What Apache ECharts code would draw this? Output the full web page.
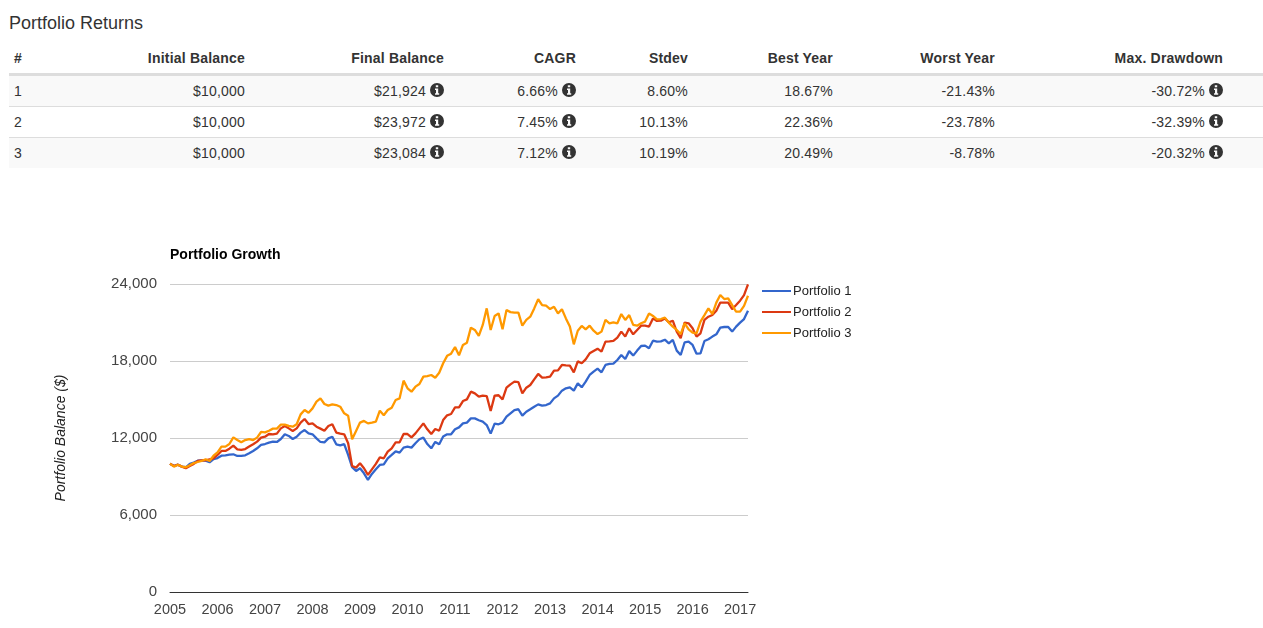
<!DOCTYPE html>
<html>
<head>
<meta charset="utf-8">
<title>Portfolio Returns</title>
<script src="https://cdn.jsdelivr.net/npm/echarts@6/dist/echarts.min.js"></script>
<style>
html,body{margin:0;padding:0;width:1263px;height:628px;overflow:hidden;background:#fff;font-family:"Liberation Sans",Arial,sans-serif;color:#333;}
h1{position:absolute;left:9px;top:13px;margin:0;font-size:18px;line-height:20px;font-weight:400;color:#333;}
table{position:absolute;left:9px;top:43px;width:1254px;border-collapse:collapse;table-layout:fixed;font-size:14px;line-height:20px;}
th,td{padding:5px;text-align:right;white-space:nowrap;}
th{height:20px;border-bottom:3px solid #ddd;font-weight:700;letter-spacing:.2px;}
td{border-top:1px solid #ddd;letter-spacing:.2px;}
tr:first-child td{border-top:0;}
th:first-child,td:first-child{text-align:left;}
tbody tr:nth-child(odd){background:#f9f9f9;}
svg.info{width:14px;height:14px;vertical-align:-1px;margin-left:4px;}
#chart{position:absolute;left:0;top:180px;width:1263px;height:448px;}
</style>
</head>
<body>
<h1 id="title"></h1>
<table id="tbl"></table>
<div id="chart"></div>
<script>
const pageTitle = "Portfolio Returns";
const chartTitle = "Portfolio Growth";
const yAxisTitle = "Portfolio Balance ($)";
const headers = ["#","Initial Balance","Final Balance","CAGR","Stdev","Best Year","Worst Year","Max. Drawdown",""];
const colWidths = [121,120,199,132,112,145,162,228,35];
const infoCols = [2,3,7];
const rows = [
  ["1","$10,000","$21,924","6.66%","8.60%","18.67%","-21.43%","-30.72%",""],
  ["2","$10,000","$23,972","7.45%","10.13%","22.36%","-23.78%","-32.39%",""],
  ["3","$10,000","$23,084","7.12%","10.19%","20.49%","-8.78%","-20.32%",""]
];
const seriesNames = ["Portfolio 1","Portfolio 2","Portfolio 3"];
const colors = ["#3366CC","#DC3912","#FF9900"];
const yTicks = [0,6000,12000,18000,24000];

const portfolio1 = [10000,9820,9920,9770,9720,9980,10080,10230,10260,10230,10110,10360,10440,10620,10650,10700,10730,10600,10600,10650,10810,10990,11200,11460,11530,11640,11720,11690,11920,12290,
12160,11920,12100,12420,12620,12360,12290,11970,11690,11660,11970,12100,11510,11430,11530,10680,9720,9430,9640,9250,8730,9200,9560,9900,9950,10420,10680,10960,10860,
11250,11330,11250,11590,11900,12030,11530,11200,11690,11510,12110,12290,12290,12680,12830,13140,13200,13530,13530,13380,13270,13010,12340,13120,13070,13200,13660,13920,14180,
14240,13740,14050,14240,14440,14620,14520,14570,14700,15090,15300,15690,15870,15950,15690,16260,15950,16390,16910,17170,17400,17120,17690,17770,17790,18080,18470,18160,18770,
18420,18810,19170,19200,18990,19580,19510,19530,19660,19380,19640,18810,18470,19460,19510,19250,18570,18600,19560,19690,19900,20080,20600,20650,20650,20290,20680,20990,21270,21924];

const portfolio2 = [10000,9820,9920,9770,9640,9820,9980,10210,10260,10260,10340,10420,10680,10990,10990,11170,11400,11120,11070,11140,11330,11510,11720,12030,12100,12310,12290,12340,12750,12940,
12750,12550,12750,13200,13480,13090,13140,12880,12730,12570,12940,13070,12420,12340,12290,11590,9820,9690,10030,9640,9120,9560,9980,10490,10420,10940,11200,11660,11660,
12310,12310,12050,12360,12750,13140,12680,12310,12700,12570,13400,13770,13870,14390,14390,14880,15010,15610,15480,15220,15300,15270,14100,15300,15330,15010,15920,16180,16390,
16360,15480,15920,16130,16570,16990,16700,16730,16780,17250,17270,17690,17660,17640,17120,17970,17820,18130,18600,18780,18960,18730,19510,19530,19560,19820,20290,19900,20550,
20080,20420,20750,20750,20680,21320,21120,21140,21320,21010,21140,20290,19770,20990,20940,20550,19900,20160,21200,21450,21580,21920,22550,22550,22550,22030,22360,22700,23140,23972];

const portfolio3 = [10000,9770,9920,9770,9720,9870,10050,10130,10210,10340,10210,10620,10880,11330,11330,11530,12050,11840,11660,11840,11920,11840,12030,12470,12440,12570,12730,12730,13040,13040,
12940,12880,13070,13840,14180,13970,14310,14830,15090,14650,14520,14620,14570,14440,13920,13740,11900,12550,13200,13330,13140,13200,13270,14130,13770,14180,14360,14960,15090,
16470,15870,15610,16000,16210,16780,16830,16910,16700,17090,17820,18400,18570,19090,18440,19250,19430,20600,20420,19950,20810,22100,20420,21510,21710,20470,21970,21810,21770,
21770,20750,21200,21450,22100,22810,22360,22310,22050,22230,21710,22030,21320,20680,19300,20360,20730,20470,20750,20360,20100,20290,21200,20940,21010,20940,21660,21200,21580,
20810,20750,20940,21070,21710,21510,21250,21270,21380,20990,20680,20420,20100,20940,20470,20210,20160,21070,21580,22100,21660,22550,23140,22830,22880,22360,21840,21840,22290,23084];

const startYear = 2005;
const months = portfolio1.map(function(_, i){
  const y = startYear + Math.floor(i / 12), m = i % 12 + 1;
  return y + "-" + (m < 10 ? "0" + m : m);
});

document.getElementById("title").textContent = pageTitle;
const icon = '<svg class="info" viewBox="0 0 14 14"><path fill="#333" fill-rule="evenodd" d="M7 0a7 7 0 1 0 0 14A7 7 0 0 0 7 0zM5.8 2.3h2.4v2H5.8zM5 5.6h3.2v4.6H9.2v1.5H5v-1.5h1V7.1H5z"/></svg>';
let html = "<colgroup>" + colWidths.map(function(w){return '<col style="width:'+w+'px">';}).join("") + "</colgroup><thead><tr>";
headers.forEach(function(h){ html += "<th>" + h + "</th>"; });
html += "</tr></thead><tbody>";
rows.forEach(function(r){
  html += "<tr>";
  r.forEach(function(c, i){ html += "<td>" + c + (infoCols.indexOf(i) >= 0 ? icon : "") + "</td>"; });
  html += "</tr>";
});
html += "</tbody>";
document.getElementById("tbl").innerHTML = html;

const chart = echarts.init(document.getElementById("chart"), null, {renderer:"canvas"});
const font = '"Liberation Sans", Arial, sans-serif';
chart.setOption({
  animation:false,
  color:colors,
  textStyle:{fontFamily:font},
  title:{text:chartTitle,left:170,top:68,padding:0,textStyle:{fontSize:14,fontWeight:"bold",color:"#000",fontFamily:font}},
  legend:{
    orient:"vertical",left:762,top:104,padding:0,itemGap:7,itemWidth:29,itemHeight:2,icon:"rect",
    data:seriesNames,
    textStyle:{fontSize:13,color:"#222",fontFamily:font,padding:[0,0,0,-3],lineHeight:14}
  },
  grid:{left:170,top:104,width:578,height:308,containLabel:false},
  xAxis:{
    type:"category",boundaryGap:false,data:months,
    axisLine:{show:true,lineStyle:{color:"#333",width:1}},
    axisTick:{show:false},
    splitLine:{show:false},
    axisLabel:{
      color:"#444",fontSize:14.5,margin:10,hideOverlap:false,
      interval:function(i){return i % 12 === 0;},
      formatter:function(v){return v.slice(0,4);}
    }
  },
  yAxis:{
    type:"value",min:yTicks[0],max:yTicks[yTicks.length-1],interval:yTicks[1]-yTicks[0],
    name:yAxisTitle,nameLocation:"middle",nameRotate:90,nameGap:102,
    nameTextStyle:{fontSize:14,fontStyle:"italic",color:"#222",fontFamily:font},
    axisLine:{show:false},axisTick:{show:false},
    splitLine:{show:true,lineStyle:{color:"#ccc",width:1}},
    axisLabel:{color:"#444",fontSize:15,margin:13,lineHeight:17,padding:[4,0,0,0],formatter:function(v){return v.toLocaleString("en-US");}}
  },
  series:[portfolio1,portfolio2,portfolio3].map(function(d,i){
    return {name:seriesNames[i],type:"line",data:d,showSymbol:false,symbol:"none",smooth:false,
      lineStyle:{width:2.3,color:colors[i]},itemStyle:{color:colors[i]},z:2+i};
  })
});
</script>
</body>
</html>
